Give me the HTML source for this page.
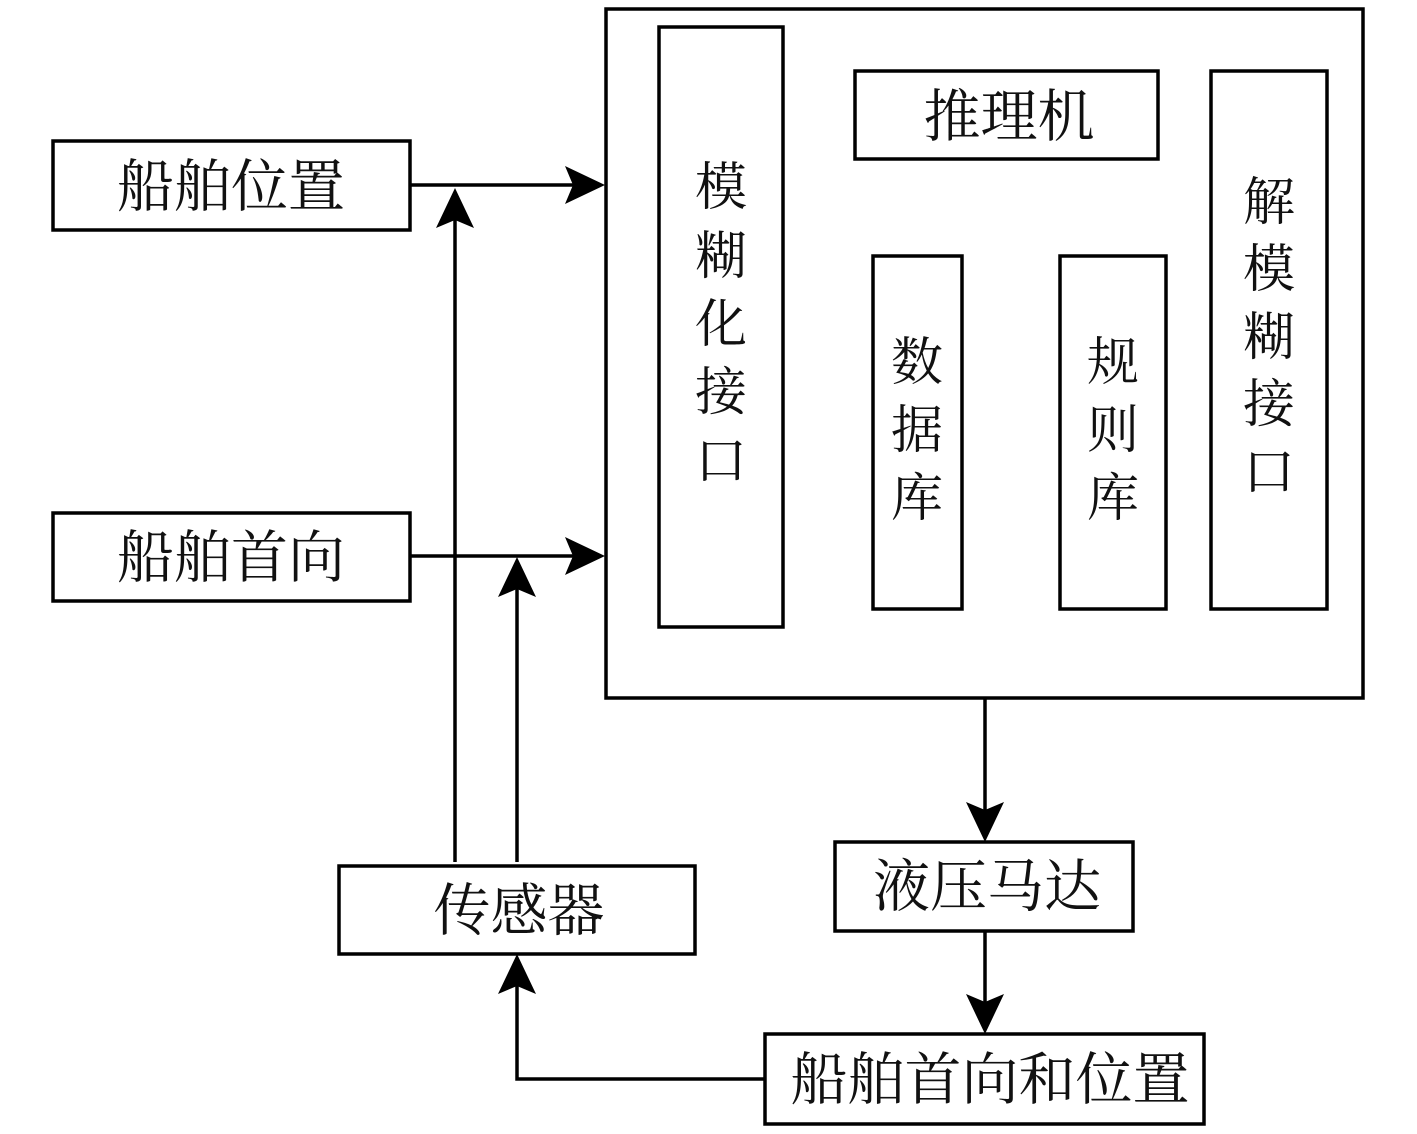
<!DOCTYPE html>
<html><head><meta charset="utf-8"><style>
html,body{margin:0;padding:0;background:#fff}
svg{display:block}
text{font-family:"Liberation Serif","Noto Serif CJK SC",serif;font-size:52px;fill:#111}
text.h{font-size:57px}
</style></head><body>
<svg width="1417" height="1134" viewBox="0 0 1417 1134" xmlns="http://www.w3.org/2000/svg">
<defs>
<path id="ah" d="M0,0 L-40,-19 L-32,0 L-40,19 Z" fill="#000"/>
</defs>
<g fill="none" stroke="#000" stroke-width="3.5">
<rect x="606" y="9" width="757" height="689"/>
<rect x="659" y="27" width="124" height="600"/>
<rect x="855" y="71" width="303" height="88"/>
<rect x="1211" y="71" width="116" height="538"/>
<rect x="873" y="256" width="89" height="353"/>
<rect x="1060" y="256" width="106" height="353"/>
<rect x="53" y="141" width="357" height="89"/>
<rect x="53" y="513" width="357" height="88"/>
<rect x="339" y="866" width="356" height="88"/>
<rect x="835" y="842" width="298" height="89"/>
<rect x="765" y="1034" width="439" height="90"/>
<path d="M410,185 H575 M410,556 H575 M455,862 V215 M517,862 V585 M985,698 V810 M985,931 V1002 M765,1079 H517 V985"/>
</g>
<use href="#ah" transform="translate(605,185)"/>
<use href="#ah" transform="translate(605,556)"/>
<use href="#ah" transform="translate(455,188) rotate(-90)"/>
<use href="#ah" transform="translate(517,557) rotate(-90)"/>
<use href="#ah" transform="translate(985,842) rotate(90)"/>
<use href="#ah" transform="translate(985,1034) rotate(90)"/>
<use href="#ah" transform="translate(517,954) rotate(-90)"/>
<g text-anchor="middle">
<text class="h" x="231" y="206">船舶位置</text>
<text class="h" x="231" y="577">船舶首向</text>
<text class="h" x="519" y="930">传感器</text>
<text class="h" x="987" y="906">液压马达</text>
<text class="h" x="990" y="1099">船舶首向和位置</text>
<text class="h" x="1009" y="136">推理机</text>
<text x="721" y="205">模</text>
<text x="721" y="274">糊</text>
<text x="721" y="342">化</text>
<text x="721" y="410">接</text>
<text x="721" y="479">口</text>
<text x="1269" y="220">解</text>
<text x="1269" y="287">模</text>
<text x="1269" y="355">糊</text>
<text x="1269" y="422">接</text>
<text x="1269" y="490">口</text>
<text x="917" y="380">数</text>
<text x="917" y="448">据</text>
<text x="917" y="516">库</text>
<text x="1113" y="380">规</text>
<text x="1113" y="448">则</text>
<text x="1113" y="516">库</text>
</g>
</svg>
</body></html>
